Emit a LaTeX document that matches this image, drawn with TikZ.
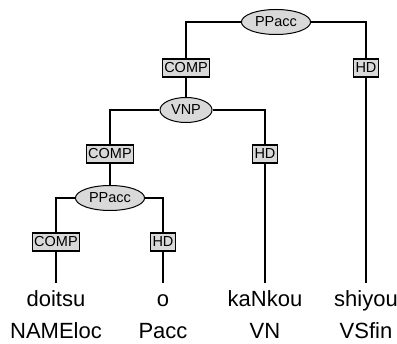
\documentclass[tikz,border=0pt]{standalone}
\usepackage{fontspec}
\setmainfont{Liberation Sans}
\usetikzlibrary{positioning,shapes.geometric}
\begin{document}
\begin{tikzpicture}[
        x=1pt, y=1pt,
        node distance=44pt,
        cat/.style={ellipse, draw=black, fill=black!15, line width=1pt, inner xsep=3.5pt, minimum height=25pt, font=\fontsize{14.5}{17}\selectfont},
        fn/.style={rectangle, draw=black, fill=black!15, line width=1.1pt, inner xsep=2pt, minimum height=18pt, font=\fontsize{14.5}{17}\selectfont},
        word/.style={anchor=base, inner xsep=0pt, inner ysep=7pt, text height=17pt, text depth=4pt, font=\fontsize{22}{26}\selectfont},
        tag/.style={word, inner ysep=0pt, text height=16pt, text depth=0pt},
        branch/.style={line width=1.4pt}
    ]
        \useasboundingbox (0,0) rectangle (397,-344);
        \coordinate (wordrow) at (0,-307);
        \coordinate (tagrow) at (0,-338.5);

        \node (root) [cat] at (276,-22) {PPacc};
        \node (comp1) [fn, below of=root, xshift=-90pt, yshift=-2pt] {COMP};
        \node (hd1) [fn, below of=root, xshift=90pt, yshift=-2pt] {HD};
        \node (vnp) [cat, below of=comp1, yshift=2pt] {VNP};
        \node (comp2) [fn, below of=vnp, xshift=-76pt] {COMP};
        \node (hd2) [fn, below of=vnp, xshift=79pt] {HD};
        \node (pp2) [cat, below of=comp2] {PPacc};
        \node (comp3) [fn, below of=pp2, xshift=-54pt] {COMP};
        \node (hd3) [fn, below of=pp2, xshift=53pt] {HD};

        \node (w1) [word] at (comp3 |- wordrow) {doitsu};
        \node (w2) [word] at (hd3 |- wordrow) {o};
        \node (w3) [word] at (hd2 |- wordrow) {kaNkou};
        \node (w4) [word] at (hd1 |- wordrow) {shiyou};
        \node (t1) [tag] at (comp3 |- tagrow) {NAMEloc};
        \node (t2) [tag] at (hd3 |- tagrow) {Pacc};
        \node (t3) [tag] at (hd2 |- tagrow) {VN};
        \node (t4) [tag] at (hd1 |- tagrow) {VSfin};

        \draw [branch] (root.west) -| (comp1);
        \draw [branch] (root.east) -| (hd1);
        \draw [branch] (comp1) -- (vnp);
        \draw [branch] (vnp.west) -| (comp2);
        \draw [branch] (vnp.east) -| (hd2);
        \draw [branch] (comp2) -- (pp2);
        \draw [branch] (pp2.west) -| (comp3);
        \draw [branch] (pp2.east) -| (hd3);
        \draw [branch] (comp3) -- (w1);
        \draw [branch] (hd3) -- (w2);
        \draw [branch] (hd2) -- (w3);
        \draw [branch] (hd1) -- (w4);
    \end{tikzpicture}
\end{document}
